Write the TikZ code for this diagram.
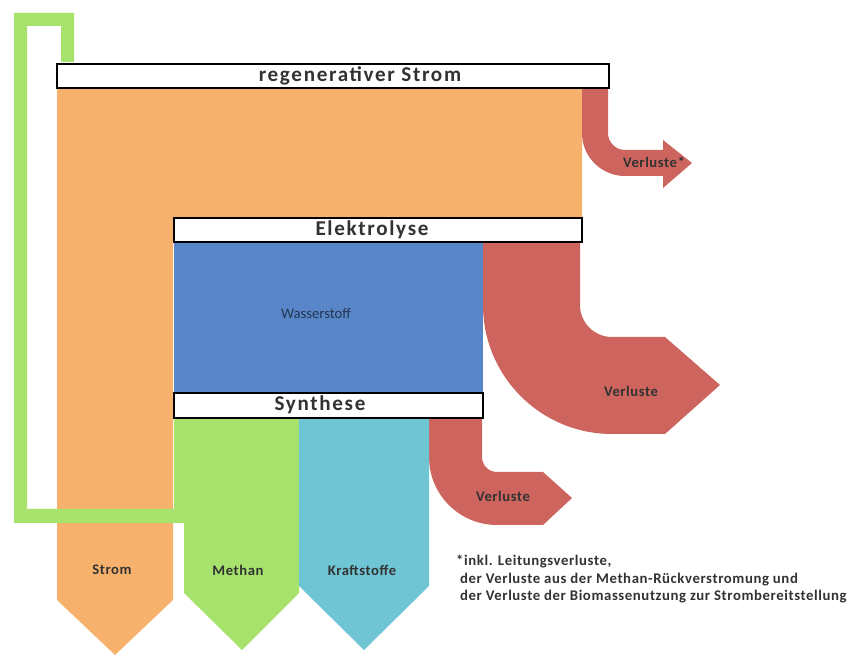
\documentclass[tikz,border=0pt]{standalone}
\usepackage{fontspec}
\setmainfont{Carlito}
\newfontfamily\gesperrt[LetterSpace=8]{Carlito}
\newfontfamily\leichtgesperrt[LetterSpace=4]{Carlito}
\usetikzlibrary{positioning}
\definecolor{stromorange}{RGB}{246,178,108}
\definecolor{wasserblau}{RGB}{88,134,200}
\definecolor{verlustrot}{RGB}{206,100,94}
\definecolor{methangruen}{RGB}{166,226,108}
\definecolor{kraftcyan}{RGB}{112,197,212}
\definecolor{schrift}{RGB}{50,50,50}

\begin{document}
\begin{tikzpicture}[x=0.03cm,y=-0.03cm,
	balken/.style={draw=black,line width=1.1pt,fill=white},
	titel/.style={font=\gesperrt\bfseries\fontsize{18}{20}\selectfont,text=schrift},
	flusstext/.style={font=\leichtgesperrt\bfseries\fontsize{12.5}{14}\selectfont,text=schrift}]
	\useasboundingbox (0,0) rectangle (854,655);
	% Strom
	\fill[stromorange] (57,88) -- (582,88) -- (582,218) -- (173,218) -- (173,600) -- (115,655) -- (57,600) -- cycle;
	% Verluste
	\fill[verlustrot] (582,88) -- (608,88) -- (608,133) arc[start angle=180,end angle=90,radius=17] -- (663,150) -- (663,140) -- (692,163) -- (663,188) -- (663,176) -- (625,176) arc[start angle=90,end angle=180,radius=43] -- cycle;
	\fill[verlustrot] (483,242) -- (580,242) -- (580,305) arc[start angle=180,end angle=90,radius=32] -- (665,337) -- (720,385) -- (665,434) -- (612,434) arc[start angle=90,end angle=180,radius=129] -- cycle;
	\fill[verlustrot] (429,418) -- (482,418) -- (482,457) arc[start angle=180,end angle=90,radius=15] -- (543,472) -- (572,498) -- (543,525) -- (497,525) arc[start angle=90,end angle=180,radius=68] -- cycle;
	% Wasserstoff
	\fill[wasserblau] (174,242) rectangle (483,393);
	% Methan mit Rueckfuehrung
	\fill[methangruen] (174,418) -- (299,418) -- (299,593) -- (242,650) -- (184,593) -- (184,523) -- (14,523) -- (14,13) -- (74,13) -- (74,62) -- (61,62) -- (61,26) -- (27,26) -- (27,509) -- (174,509) -- cycle;
	% Kraftstoffe
	\fill[kraftcyan] (299,418) -- (429,418) -- (429,586) -- (364,650) -- (299,586) -- cycle;
	% Balken
	\draw[balken] (57,64) rectangle (609,88);
	\draw[balken] (174,218) rectangle (582,242);
	\draw[balken] (174,393) rectangle (483,418);
	\node[titel] (regstrom) at (360,76) {regenerativer Strom};
	\node[titel] (elektrolyse) at (372,230) {Elektrolyse};
	\node[titel] (synthese) at (320,405) {Synthese};
	\node[font=\fontsize{12.5}{14}\selectfont,text=wasserblau!40!black] (wasserstoff) at (316,313) {Wasserstoff};
	\node[flusstext] (verl1) at (654,162) {Verluste*};
	\node[flusstext] (verl2) at (631,391) {Verluste};
	\node[flusstext] (verl3) at (503,496) {Verluste};
	\node[flusstext] (strom) at (112,570) {Strom};
	\node[flusstext] (methan) at (238,570) {Methan};
	\node[flusstext] (kraftstoffe) at (362,570) {Kraftstoffe};
	\node[flusstext,anchor=north west,align=left,inner sep=0pt,
		font=\leichtgesperrt\bfseries\fontsize{12.6}{14.8}\selectfont] (fussnote) at (456,555)
		{*inkl. Leitungsverluste,\\
		\ der Verluste aus der Methan-R\"uckverstromung und\\
		\ der Verluste der Biomassenutzung zur Strombereitstellung};
\end{tikzpicture}
\end{document}
